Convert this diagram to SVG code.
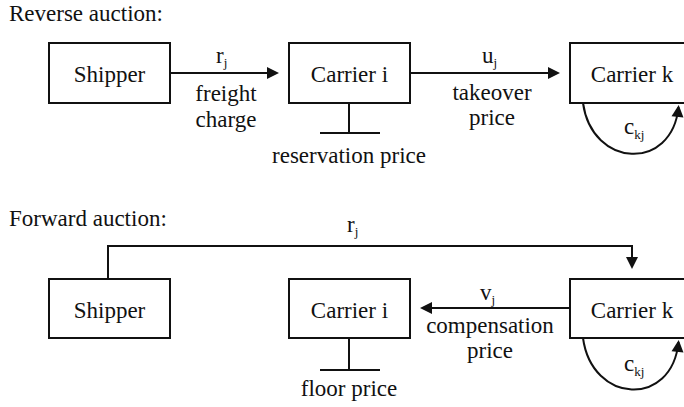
<svg xmlns="http://www.w3.org/2000/svg" width="684" height="407" viewBox="0 0 684 407">
  <defs>
    <style>
      .lbl { font-size: 23px; fill: #111; }
      .mid { text-anchor: middle; }
      .sub { font-size: 13px; }
      .box { fill: #fff; stroke: #111; stroke-width: 2; }
      .ln { fill: none; stroke: #111; stroke-width: 2; }
      .arr { marker-end: url(#head); }
    </style>
    <marker id="head" markerUnits="userSpaceOnUse" markerWidth="13" markerHeight="12" refX="10" refY="6" orient="auto" overflow="visible">
      <path d="M0,0 L12,6 L0,12 Z" fill="#111"/>
    </marker>
  </defs>
  <rect width="684" height="407" fill="#fff"/>

  <g font-family="'Liberation Serif', serif">
  <!-- Reverse auction -->
  <text class="lbl" x="9" y="21">Reverse auction:</text>

  <g id="connectors-reverse">
    <path class="ln arr" d="M170,73 H277"/>
    <path class="ln arr" d="M410,73 H558"/>
    <path class="ln" d="M349,103 V133 M320,133 H380"/>
    <path class="ln arr" d="M583,103 C592,168 672,172 678.5,107"/>
    <text class="lbl" x="216" y="63">r<tspan class="sub" dy="4">j</tspan></text>
    <text class="lbl mid" x="226" y="101">freight</text>
    <text class="lbl mid" x="226" y="127">charge</text>
    <text class="lbl" x="482" y="63">u<tspan class="sub" dy="4">j</tspan></text>
    <text class="lbl mid" x="492" y="100">takeover</text>
    <text class="lbl mid" x="492" y="125">price</text>
    <text class="lbl mid" x="349" y="163">reservation price</text>
    <text class="lbl" x="624" y="134">c<tspan class="sub" dy="5">kj</tspan></text>
  </g>

  <g id="shipper-r">
    <rect class="box" x="49" y="43" width="121" height="60"/>
    <text class="lbl mid" x="109.5" y="82">Shipper</text>
  </g>
  <g id="carrier-i-r">
    <rect class="box" x="289" y="43" width="121" height="60"/>
    <text class="lbl mid" x="349.5" y="82">Carrier i</text>
  </g>
  <g id="carrier-k-r">
    <rect class="box" x="570" y="43" width="121" height="60"/>
    <text class="lbl mid" x="632" y="82">Carrier k</text>
  </g>

  <!-- Forward auction -->
  <text class="lbl" x="9" y="226">Forward auction:</text>

  <g id="connectors-forward">
    <path class="ln arr" d="M108,279 V246 H632 V267"/>
    <path class="ln arr" d="M570,308 H422"/>
    <path class="ln" d="M349,338 V370 M320,370 H380"/>
    <path class="ln arr" d="M583,338 C592,404 672,408 678.5,342"/>
    <text class="lbl" x="347" y="232">r<tspan class="sub" dy="4">j</tspan></text>
    <text class="lbl" x="480" y="300">v<tspan class="sub" dy="4">j</tspan></text>
    <text class="lbl mid" x="490" y="333">compensation</text>
    <text class="lbl mid" x="490" y="358">price</text>
    <text class="lbl mid" x="349" y="396">floor price</text>
    <text class="lbl" x="624" y="371">c<tspan class="sub" dy="5">kj</tspan></text>
  </g>

  <g id="shipper-f">
    <rect class="box" x="49" y="279" width="121" height="59"/>
    <text class="lbl mid" x="109.5" y="318">Shipper</text>
  </g>
  <g id="carrier-i-f">
    <rect class="box" x="289" y="279" width="121" height="59"/>
    <text class="lbl mid" x="349.5" y="318">Carrier i</text>
  </g>
  <g id="carrier-k-f">
    <rect class="box" x="570" y="279" width="121" height="59"/>
    <text class="lbl mid" x="632" y="318">Carrier k</text>
  </g>
  </g>
</svg>
